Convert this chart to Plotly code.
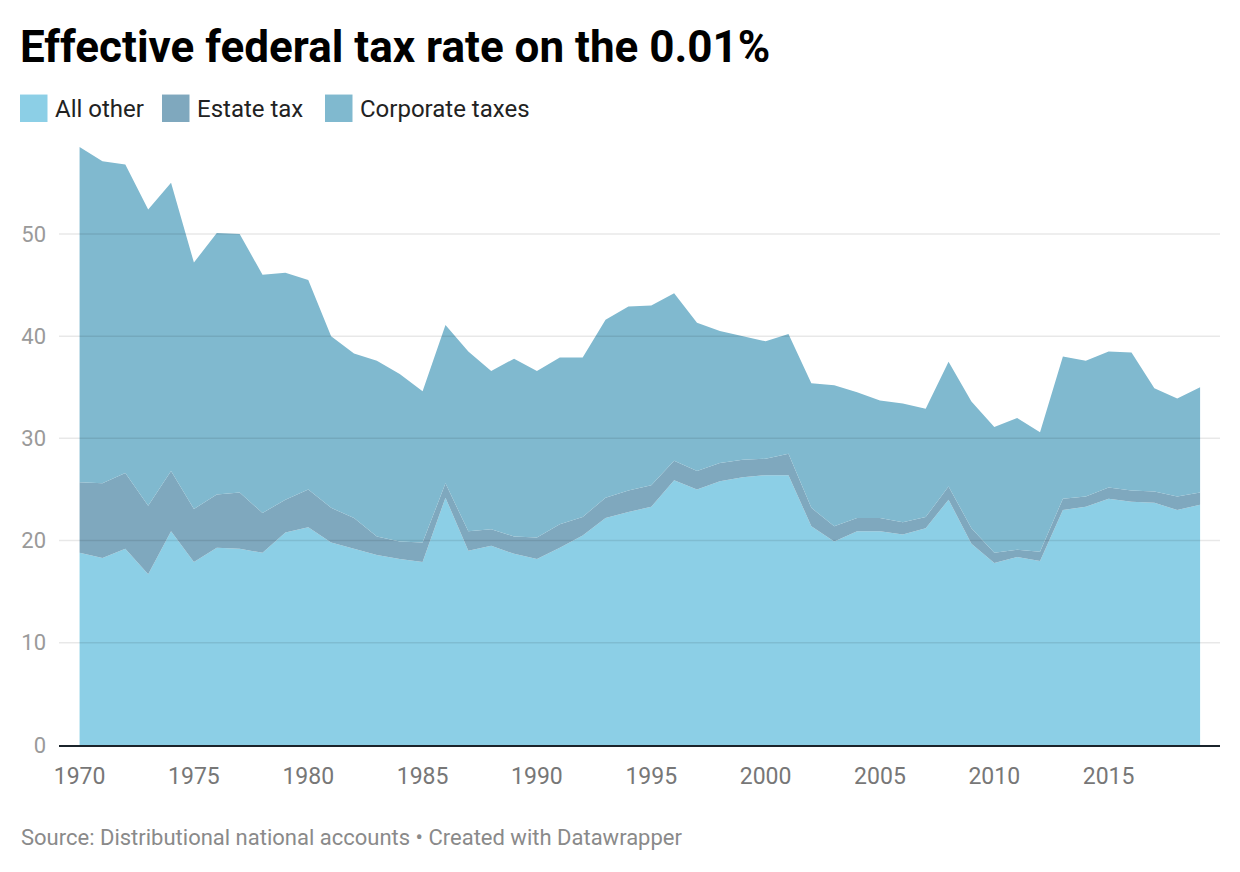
import plotly.graph_objects as go

years = list(range(1970, 2020))

all_other = [18.8, 18.3, 19.2, 16.7, 20.9, 17.9, 19.3, 19.2, 18.8, 20.8,
             21.3, 19.8, 19.2, 18.6, 18.2, 17.9, 24.2, 19.0, 19.5, 18.7,
             18.2, 19.3, 20.5, 22.2, 22.8, 23.3, 25.9, 25.0, 25.8, 26.2,
             26.4, 26.4, 21.4, 19.9, 20.9, 20.9, 20.6, 21.2, 24.0, 19.7,
             17.8, 18.4, 18.0, 23.0, 23.3, 24.1, 23.8, 23.7, 23.0, 23.5]

estate_tax = [6.9, 7.3, 7.4, 6.7, 5.9, 5.2, 5.2, 5.5, 3.9, 3.2,
              3.7, 3.4, 3.0, 1.8, 1.7, 1.9, 1.4, 1.9, 1.6, 1.7,
              2.1, 2.3, 1.8, 2.0, 2.1, 2.1, 1.9, 1.8, 1.8, 1.7,
              1.6, 2.1, 1.8, 1.5, 1.3, 1.3, 1.2, 1.1, 1.3, 1.5,
              1.0, 0.7, 0.9, 1.1, 1.0, 1.1, 1.1, 1.1, 1.3, 1.2]

corporate = [32.8, 31.5, 30.2, 29.0, 28.2, 24.1, 25.6, 25.3, 23.3, 22.2,
             20.5, 16.8, 16.1, 17.2, 16.4, 14.8, 15.5, 17.6, 15.5, 17.4,
             16.3, 16.3, 15.6, 17.4, 18.0, 17.6, 16.4, 14.5, 12.9, 12.1,
             11.5, 11.7, 12.2, 13.8, 12.3, 11.5, 11.6, 10.6, 12.2, 12.4,
             12.3, 12.9, 11.7, 13.9, 13.3, 13.3, 13.5, 10.1, 9.6, 10.3]

series_names = ["All other", "Estate tax", "Corporate taxes"]
series_colors = ["#8ccfe6", "#7fa8be", "#80b9cf"]
x_ticks = [1970, 1975, 1980, 1985, 1990, 1995, 2000, 2005, 2010, 2015]
y_ticks = [0, 10, 20, 30, 40, 50]

title_text = "Effective federal tax rate on the 0.01%"
source_text = "Source: Distributional national accounts • Created with Datawrapper"

W, H = 1240, 872
L, R, T, B = 59, 1220, 144.5, 745


def px(xp):
    return (xp - L) / (R - L)


def py(yp):
    return (B - yp) / (B - T)


fig = go.Figure()
for name, vals, col in zip(series_names, [all_other, estate_tax, corporate], series_colors):
    fig.add_trace(go.Scatter(
        x=years, y=vals, name=name, mode="lines",
        line=dict(width=0, color=col), fillcolor=col,
        stackgroup="one", hoverinfo="x+y+name",
    ))

shapes = []
for v in y_ticks[1:]:
    shapes.append(dict(type="line", xref="paper", x0=0, x1=1, yref="y", y0=v, y1=v,
                       line=dict(color="rgba(0,0,0,0.09)", width=1.5), layer="above"))

annotations = [
    dict(text="<b>" + title_text + "</b>", xref="paper", yref="paper",
         x=px(18), y=py(18), xanchor="left", yanchor="top", showarrow=False,
         font=dict(family="Roboto", size=44, color="#000000")),
    dict(text=source_text, xref="paper", yref="paper",
         x=px(19), y=py(838), xanchor="left", yanchor="middle", showarrow=False,
         font=dict(family="Roboto", size=22, color="#8a8a8a")),
]

legend_x = [20, 162, 325]
for name, col, lx in zip(series_names, series_colors, legend_x):
    shapes.append(dict(type="rect", xref="paper", yref="paper",
                       x0=px(lx), x1=px(lx + 27.5), y0=py(121.5), y1=py(94),
                       fillcolor=col, line=dict(width=0), layer="above"))
    annotations.append(dict(text=name, xref="paper", yref="paper",
                            x=px(lx + 32.5), y=py(108), xanchor="left", yanchor="middle",
                            showarrow=False,
                            font=dict(family="Roboto", size=24, color="#222222")))

fig.update_layout(
    width=W, height=H,
    margin=dict(l=L, r=W - R, t=T, b=H - B, pad=0),
    paper_bgcolor="white", plot_bgcolor="white",
    showlegend=False,
    shapes=shapes, annotations=annotations,
    font=dict(family="Roboto"),
    xaxis=dict(range=[1969.1, 2019.87], tickvals=x_ticks, ticktext=[str(t) for t in x_ticks],
               showgrid=False, zeroline=False, showline=True, linecolor="#1b242b",
               linewidth=2, layer="above traces", ticks="", ticklabelstandoff=9,
               tickfont=dict(family="Roboto", size=23, color="#777777"), fixedrange=True),
    yaxis=dict(range=[0, 58.7], tickvals=y_ticks, showgrid=False, zeroline=False,
               showline=False, ticks="", ticklabelstandoff=12,
               tickfont=dict(family="Roboto", size=22, color="#9a9a9a"), fixedrange=True),
)

fig.write_html("out.html")
